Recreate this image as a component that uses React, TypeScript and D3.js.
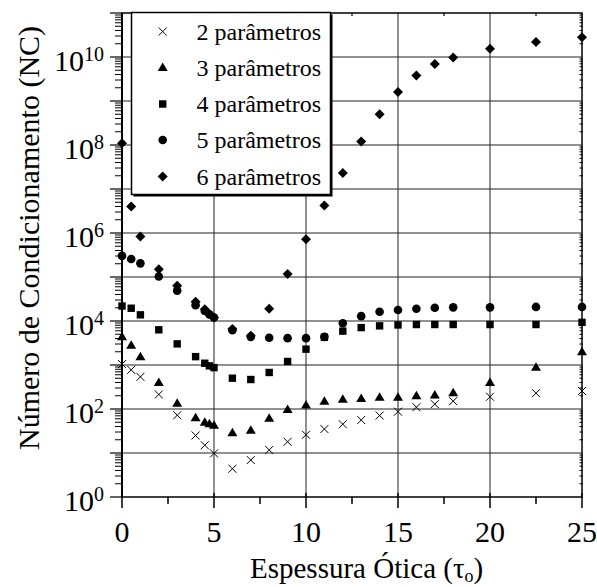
import React from 'react';
import * as d3 from 'd3';

// Optical thickness (x) values for each series
const tauX = [0, 0.5, 1, 2, 3, 4, 4.5, 5, 6, 7, 8, 9, 10, 11, 12, 13, 14, 15, 16, 17, 18, 20, 22.5, 25];
const tauAll = [0, 0.5, 1, 2, 3, 4, 4.5, 4.75, 5, 6, 7, 8, 9, 10, 11, 12, 13, 14, 15, 16, 17, 18, 20, 22.5, 25];

// Condition numbers (NC)
const nc2 = [1050, 776, 537, 214, 72, 25, 15, 9.8, 4.4, 6.9, 11.7, 18, 26, 35, 45, 56, 71, 87, 110, 129, 151, 190, 229, 257];
const nc3 = [4365, 2818, 1549, 398, 135, 63, 50, 46, 43, 29, 33, 62, 98, 123, 151, 166, 174, 186, 186, 200, 209, 234, 398, 891, 1995];
const nc4 = [21878, 19498, 13804, 6310, 3020, 1549, 1096, 955, 871, 501, 468, 676, 1202, 2291, 4266, 5888, 7079, 7762, 8128, 8318, 8318, 8318, 8318, 8318, 9333];
const nc5 = [301995, 257040, 204174, 102329, 48978, 22909, 16982, 14125, 12023, 6166, 4365, 4169, 4074, 4074, 4365, 8913, 12882, 16218, 17783, 19055, 19953, 20417, 20417, 20893, 20893];
const nc6 = [1.1e8, 4.0e6, 8.3e5, 1.5e5, 6.3e4, 2.75e4, 1.86e4, 1.45e4, 1.2e4, 6.6e3, 4.6e3, 1.9e4, 1.17e5, 7.2e5, 4.2e6, 2.3e7, 1.2e8, 5.0e8, 1.6e9, 3.8e9, 6.9e9, 9.8e9, 1.55e10, 2.2e10, 2.8e10];

const seriesNames = ['2 parâmetros', '3 parâmetros', '4 parâmetros', '5 parâmetros', '6 parâmetros'];
const seriesShapes = ['cross', 'triangle', 'square', 'circle', 'diamond'];

const xTicks = [0, 5, 10, 15, 20, 25];
const xMinorTicks = [2.5, 7.5, 12.5, 17.5, 22.5];
const yLabelExps = [0, 2, 4, 6, 8, 10];
const yDecades = [0, 1, 2, 3, 4, 5, 6, 7, 8, 9, 10, 11];

const FONT =
  "'Liberation Serif', Tinos, 'Times New Roman', Times, 'Nimbus Roman', 'Nimbus Roman No9 L', 'TeX Gyre Termes', FreeSerif, 'Noto Serif', 'DejaVu Serif', Georgia, serif";

function Marker({ shape, cx, cy }: { shape: string; cx: number; cy: number }) {
  if (shape === 'cross') {
    const h = 4;
    return (
      <path
        d={`M${cx - h},${cy - h}L${cx + h},${cy + h}M${cx - h},${cy + h}L${cx + h},${cy - h}`}
        stroke="#000"
        strokeWidth={1}
        fill="none"
      />
    );
  }
  if (shape === 'triangle') {
    return <path d={`M${cx},${cy - 5}L${cx + 5},${cy + 3.5}L${cx - 5},${cy + 3.5}Z`} fill="#000" />;
  }
  if (shape === 'square') {
    return <rect x={cx - 3.7} y={cy - 3.7} width={7.4} height={7.4} fill="#000" />;
  }
  if (shape === 'circle') {
    return <circle cx={cx} cy={cy} r={4.3} fill="#000" />;
  }
  return <path d={`M${cx},${cy - 5}L${cx + 5},${cy}L${cx},${cy + 5}L${cx - 5},${cy}Z`} fill="#000" />;
}

export default function App() {
  const x = d3.scaleLinear().domain([0, 25]).range([122, 582]);
  const y = d3.scaleLog().domain([1, 1e11]).range([497, 13]);
  const [x0, x1] = x.range();
  const [y0, y1] = y.range();

  const series = [
    { xs: tauX, ys: nc2 },
    { xs: tauAll, ys: nc3 },
    { xs: tauAll, ys: nc4 },
    { xs: tauAll, ys: nc5 },
    { xs: tauAll, ys: nc6 },
  ];

  const minorY: number[] = [];
  yDecades.slice(0, -1).forEach((k) => {
    for (let m = 2; m <= 9; m++) minorY.push(m * Math.pow(10, k));
  });

  const legendX = 131.5;
  const legendY = 12.5;
  const legendW = 199;
  const legendH = 182;
  const legendRows = [31.5, 67.5, 104, 140, 176.5];
  const tStyle = { fontFamily: FONT };

  return (
    <svg
      width={597}
      height={587}
      style={{ position: 'absolute', left: 0, top: 0, background: '#fff', fontFamily: FONT }}
    >
      <rect x={0} y={0} width={597} height={587} fill="#fff" />
      {/* gridlines */}
      {yDecades.slice(1, -1).map((k) => (
        <line key={'gy' + k} x1={x0} x2={x1} y1={y(Math.pow(10, k))} y2={y(Math.pow(10, k))} stroke="#222" strokeWidth={1} />
      ))}
      {xTicks.slice(1, -1).map((t) => (
        <line key={'gx' + t} x1={x(t)} x2={x(t)} y1={y0} y2={y1} stroke="#222" strokeWidth={1} />
      ))}

      {/* left axis ticks */}
      {yDecades.map((k) => (
        <line key={'ly' + k} x1={x0 - 12} x2={x0} y1={y(Math.pow(10, k))} y2={y(Math.pow(10, k))} stroke="#000" strokeWidth={1.2} />
      ))}
      {minorY.map((v, i) => (
        <line key={'lmy' + i} x1={x0 - 7} x2={x0} y1={y(v)} y2={y(v)} stroke="#000" strokeWidth={1} />
      ))}
      {/* right axis minor ticks */}
      {minorY.map((v, i) => (
        <line key={'rmy' + i} x1={x1 - 2.5} x2={x1 + 1} y1={y(v)} y2={y(v)} stroke="#000" strokeWidth={1} />
      ))}
      {/* bottom axis ticks */}
      {xTicks.map((t) => (
        <line key={'bx' + t} x1={x(t)} x2={x(t)} y1={y0 - 4} y2={y0 + 11} stroke="#000" strokeWidth={1.5} />
      ))}
      {xMinorTicks.map((t) => (
        <line key={'bmx' + t} x1={x(t)} x2={x(t)} y1={y0} y2={y0 + 7} stroke="#000" strokeWidth={1.5} />
      ))}
      {/* top axis minor ticks */}
      {xMinorTicks.map((t) => (
        <line key={'tmx' + t} x1={x(t)} x2={x(t)} y1={y1} y2={y1 + 3} stroke="#000" strokeWidth={1.2} />
      ))}

      {/* frame */}
      <rect x={x0} y={y1} width={x1 - x0} height={y0 - y1} fill="none" stroke="#000" strokeWidth={1.5} />
      <line x1={x0} x2={x0} y1={y1} y2={y0} stroke="#000" strokeWidth={2} />

      {/* tick labels */}
      {xTicks.map((t) => (
        <text key={'xl' + t} x={x(t)} y={541.5} textAnchor="middle" fontSize={30} style={tStyle}>
          {t}
        </text>
      ))}
      {yLabelExps.map((k) => (
        <text key={'yl' + k} x={104} y={y(Math.pow(10, k)) + 14} textAnchor="end" fontSize={30} style={tStyle}>
          10
          <tspan dy={-10} fontSize={20}>
            {k}
          </tspan>
        </text>
      ))}

      {/* axis titles */}
      <text x={250} y={578} fontSize={29} style={tStyle}>
        Espessura Ótica (τ
        <tspan dy={4} fontSize={18}>
          o
        </tspan>
        <tspan dy={-4}>)</tspan>
      </text>
      <text transform="translate(39,238) rotate(-90)" textAnchor="middle" fontSize={30} style={tStyle}>
        Número de Condicionamento (NC)
      </text>

      {/* data */}
      {series.map((s, si) => (
        <g key={'s' + si}>
          {s.xs.map((t, i) => (
            <Marker key={i} shape={seriesShapes[si]} cx={x(t)} cy={y(s.ys[i])} />
          ))}
        </g>
      ))}

      {/* legend */}
      <rect x={legendX + 2} y={legendY + 2} width={legendW} height={legendH} fill="#000" />
      <rect x={legendX} y={legendY} width={legendW} height={legendH} fill="#fff" stroke="#000" strokeWidth={1.5} />
      {seriesNames.map((name, i) => (
        <g key={'lg' + i}>
          <Marker shape={seriesShapes[i]} cx={162.7} cy={legendRows[i]} />
          <text x={196.5} y={legendRows[i] + 8} fontSize={24} style={tStyle}>
            {name}
          </text>
        </g>
      ))}
    </svg>
  );
}
